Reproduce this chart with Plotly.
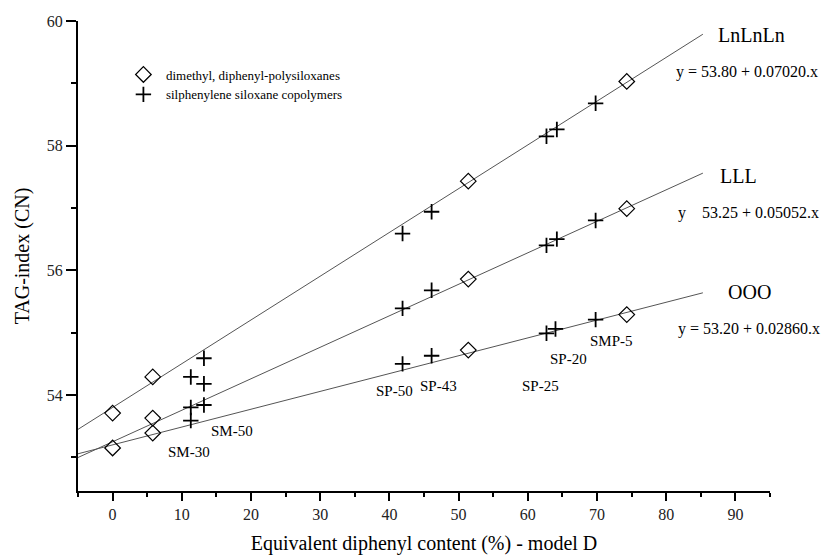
import plotly.graph_objects as go

# ---- data ----
# dimethyl, diphenyl-polysiloxanes (diamonds)
lnln_diam_x = [0, 5.8, 51.4, 74.3]
lnln_diam_y = [53.71, 54.29, 57.43, 59.03]
lll_diam_x = [5.8, 51.4, 74.3]
lll_diam_y = [53.63, 55.86, 56.99]
ooo_diam_x = [0, 5.8, 51.4, 74.3]
ooo_diam_y = [53.15, 53.39, 54.72, 55.29]

# silphenylene siloxane copolymers (crosses)
lnln_cross_x = [11.3, 13.2, 41.9, 46.1, 62.7, 64.2, 69.8]
lnln_cross_y = [54.29, 54.59, 56.59, 56.94, 58.15, 58.26, 58.68]
lll_cross_x = [11.3, 13.2, 41.9, 46.1, 62.7, 64.2, 69.8]
lll_cross_y = [53.80, 54.18, 55.39, 55.68, 56.40, 56.50, 56.80]
ooo_cross_x = [11.3, 13.2, 41.9, 46.1, 62.7, 64.0, 69.8]
ooo_cross_y = [53.59, 53.84, 54.50, 54.63, 54.99, 55.06, 55.21]

# regression lines (from the equations printed on the chart)
tag_names = ["LnLnLn", "LLL", "OOO"]
intercepts = [53.80, 53.25, 53.20]
slopes = [0.07020, 0.05052, 0.02860]
fit_x_range = [-5, 85.3]
equations = ["y = 53.80 + 0.07020.x", "y\u00a0\u00a0\u00a0\u00a053.25 + 0.05052.x", "y = 53.20 + 0.02860.x"]

# column labels
col_labels = ["SM-30", "SM-50", "SP-50", "SP-43", "SP-25", "SP-20", "SMP-5"]

FONT = "Liberation Serif, Times New Roman, serif"

fig = go.Figure()

for b, m in zip(intercepts, slopes):
    fig.add_trace(go.Scatter(
        x=fit_x_range, y=[b + m * x for x in fit_x_range],
        mode="lines", line=dict(color="#555555", width=1),
        showlegend=False, hoverinfo="skip"))

fig.add_trace(go.Scatter(
    x=lnln_diam_x + lll_diam_x + ooo_diam_x,
    y=lnln_diam_y + lll_diam_y + ooo_diam_y,
    mode="markers", name="dimethyl, diphenyl-polysiloxanes",
    marker=dict(symbol="diamond-open", size=12, color="black", line=dict(width=1.2, color="black"))))

fig.add_trace(go.Scatter(
    x=lnln_cross_x + lll_cross_x + ooo_cross_x,
    y=lnln_cross_y + lll_cross_y + ooo_cross_y,
    mode="markers", name="silphenylene siloxane copolymers",
    marker=dict(symbol="cross-thin", size=11, color="black", line=dict(width=1.8, color="black"))))

annotations = []
# TAG names (left anchored) and equations
name_pos = [(87.2, 59.78), (87.5, 57.51), (88.6, 55.66)]
eq_pos = [(81.1, 59.18), (81.4, 56.92), (81.4, 55.06)]
for nm, (nx, ny), eq, (ex, ey) in zip(tag_names, name_pos, equations, eq_pos):
    annotations.append(dict(x=nx, y=ny, text=nm, showarrow=False, xanchor="left", yanchor="middle",
                            font=dict(family=FONT, size=20, color="black")))
    annotations.append(dict(x=ex, y=ey, text=eq, showarrow=False, xanchor="left", yanchor="middle",
                            font=dict(family=FONT, size=16, color="black")))

label_pos = [(11.0, 53.09), (17.3, 53.42), (40.8, 54.06), (47.1, 54.15), (61.9, 54.14), (65.9, 54.57), (72.1, 54.86)]
for lab, (lx, ly) in zip(col_labels, label_pos):
    annotations.append(dict(x=lx, y=ly, text=lab, showarrow=False, xanchor="center", yanchor="middle",
                            font=dict(family=FONT, size=15, color="black")))

fig.update_layout(
    width=835, height=559,
    margin=dict(l=78, r=65, t=21, b=68, autoexpand=False),
    paper_bgcolor="white", plot_bgcolor="white",
    font=dict(family=FONT, color="black"),
    annotations=annotations,
    legend=dict(x=0.062, y=0.918, xanchor="left", yanchor="top",
                font=dict(family=FONT, size=13, color="black"),
                bgcolor="rgba(0,0,0,0)", itemwidth=35),
    xaxis=dict(range=[-5, 95], tick0=0, dtick=10, showgrid=False, zeroline=False, automargin=False,
               showline=True, linecolor="black", linewidth=2,
               ticks="outside", ticklen=8, tickwidth=1.5, tickcolor="black",
               minor=dict(dtick=5, tick0=0, ticks="outside", ticklen=4, tickwidth=1.5, tickcolor="black", showgrid=False),
               tickfont=dict(family=FONT, size=16, color="#222"),
               title=dict(text="Equivalent diphenyl content (%) - model D",
                          font=dict(family=FONT, size=20, color="black"), standoff=14)),
    yaxis=dict(range=[52.46, 60], tick0=54, dtick=2, showgrid=False, zeroline=False, automargin=False,
               showline=True, linecolor="black", linewidth=2,
               ticks="outside", ticklen=10, tickwidth=1.5, tickcolor="black",
               minor=dict(dtick=1, tick0=54, ticks="outside", ticklen=5, tickwidth=1.5, tickcolor="black", showgrid=False),
               tickfont=dict(family=FONT, size=16, color="#222"),
               title=dict(text="TAG-index (CN)", font=dict(family=FONT, size=20, color="black"), standoff=12)),
)

fig.write_html("out.html", config={"displayModeBar": False},
               post_script="document.body.style.margin='0';")
